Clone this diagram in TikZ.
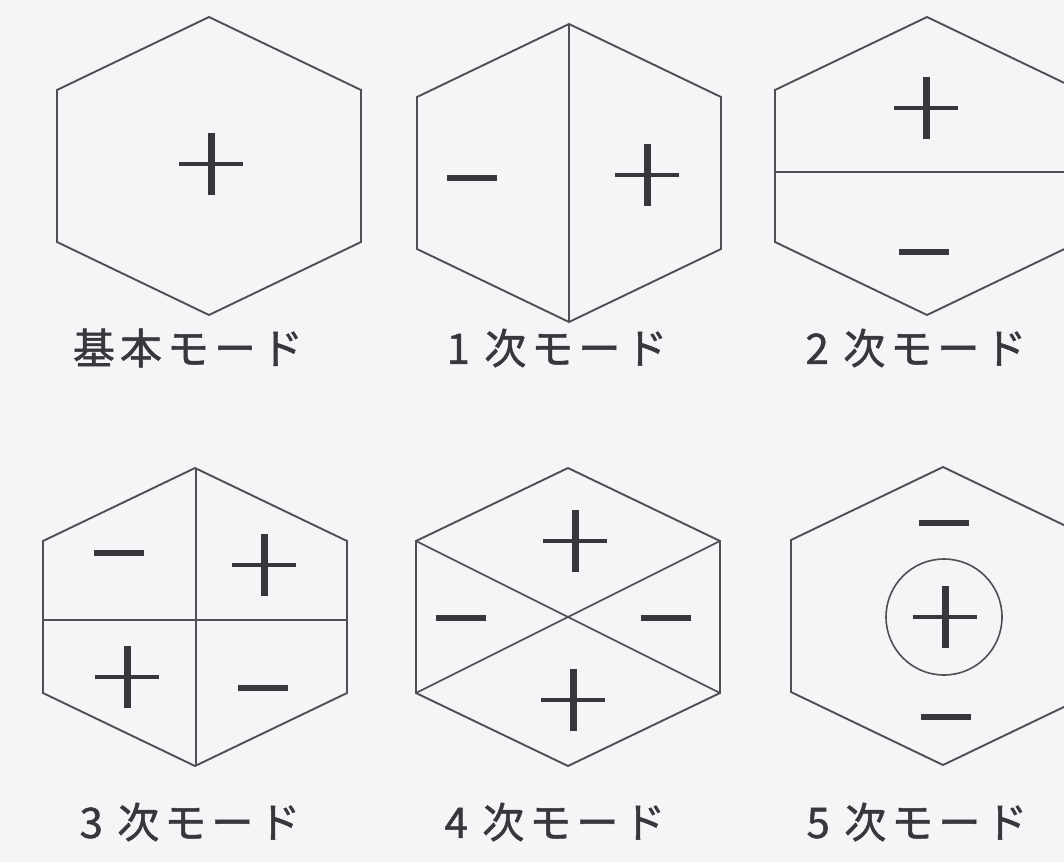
\documentclass[tikz,border=0pt]{standalone}
\usepackage{fontspec}
\usepackage{tikz}
\newfontfamily\jpfont[LetterSpace=12, FakeBold=1.2]{Noto Sans CJK JP}
\definecolor{papercol}{RGB}{245,244,247}
\definecolor{edgecol}{RGB}{80,80,84}
\definecolor{signcol}{RGB}{55,55,60}

\begin{document}
\begin{tikzpicture}[x=1pt, y=-1pt,
    hexline/.style={line width=1.9pt, draw=edgecol, line join=miter},
    cutline/.style={line width=1.6pt, draw=edgecol},
    modelabel/.style={font=\jpfont\fontsize{42}{46}\selectfont, text=signcol, inner sep=0pt},
    hexa/.pic={\draw[hexline] (0,-149) -- (152,-76) -- (152,76) -- (0,149)
                 -- (-152,76) -- (-152,-76) -- cycle;},
    plusmark/.pic={\draw[signcol, line width=4.5pt] (-32,0) -- (32,0);
                   \draw[signcol, line width=7pt] (0,-31) -- (0,31);},
    minusmark/.pic={\draw[signcol, line width=5.5pt] (-25,0) -- (25,0);}]

    % ── Sheet ────────────────────────────────────────────────────────────────
    \useasboundingbox (0,0) rectangle (1064,862);
    \fill[papercol] (0,0) rectangle (1064,862);
    \clip (0,0) rectangle (1064,862);

    % ── Fundamental mode ─────────────────────────────────────────────────────
    \pic at (209,166) {hexa};
    \pic at (211,164) {plusmark};
    \node[modelabel] (lbl0) at (188,348) {基本モード};

    % ── 1st mode: split vertically ───────────────────────────────────────────
    \pic at (569,173) {hexa};
    \draw[cutline] (569,24) -- (569,322);
    \pic at (472,178) {minusmark};
    \pic at (647,175) {plusmark};
    \node[modelabel] (lbl1) at (557,348) {1 次モード};

    % ── 2nd mode: split horizontally ─────────────────────────────────────────
    \pic at (927,166) {hexa};
    \draw[cutline] (775,172) -- (1079,172);
    \pic at (926,108) {plusmark};
    \pic at (924,252) {minusmark};
    \node[modelabel] (lbl2) at (916,348) {2 次モード};

    % ── 3rd mode: four quadrants ─────────────────────────────────────────────
    \pic at (195,617) {hexa};
    \draw[cutline] (43,620) -- (347,620);
    \draw[cutline] (196,468) -- (196,766);
    \pic at (119,553) {minusmark};
    \pic at (264,565) {plusmark};
    \pic at (127,677) {plusmark};
    \pic at (263,688) {minusmark};
    \node[modelabel] (lbl3) at (190,822) {3 次モード};

    % ── 4th mode: crossed diagonals ──────────────────────────────────────────
    \pic at (568,617) {hexa};
    \draw[cutline] (416,541) -- (720,693);
    \draw[cutline] (416,693) -- (720,541);
    \pic at (575,541) {plusmark};
    \pic at (573,700) {plusmark};
    \pic at (461,618) {minusmark};
    \pic at (666,618) {minusmark};
    \node[modelabel] (lbl4) at (555,822) {4 次モード};

    % ── 5th mode: ring around centre ─────────────────────────────────────────
    \pic at (943,616) {hexa};
    \draw[cutline] (944,617) circle[radius=58];
    \pic at (944,523) {minusmark};
    \pic at (945,617) {plusmark};
    \pic at (946,717) {minusmark};
    \node[modelabel] (lbl5) at (917,822) {5 次モード};

\end{tikzpicture}
\end{document}
